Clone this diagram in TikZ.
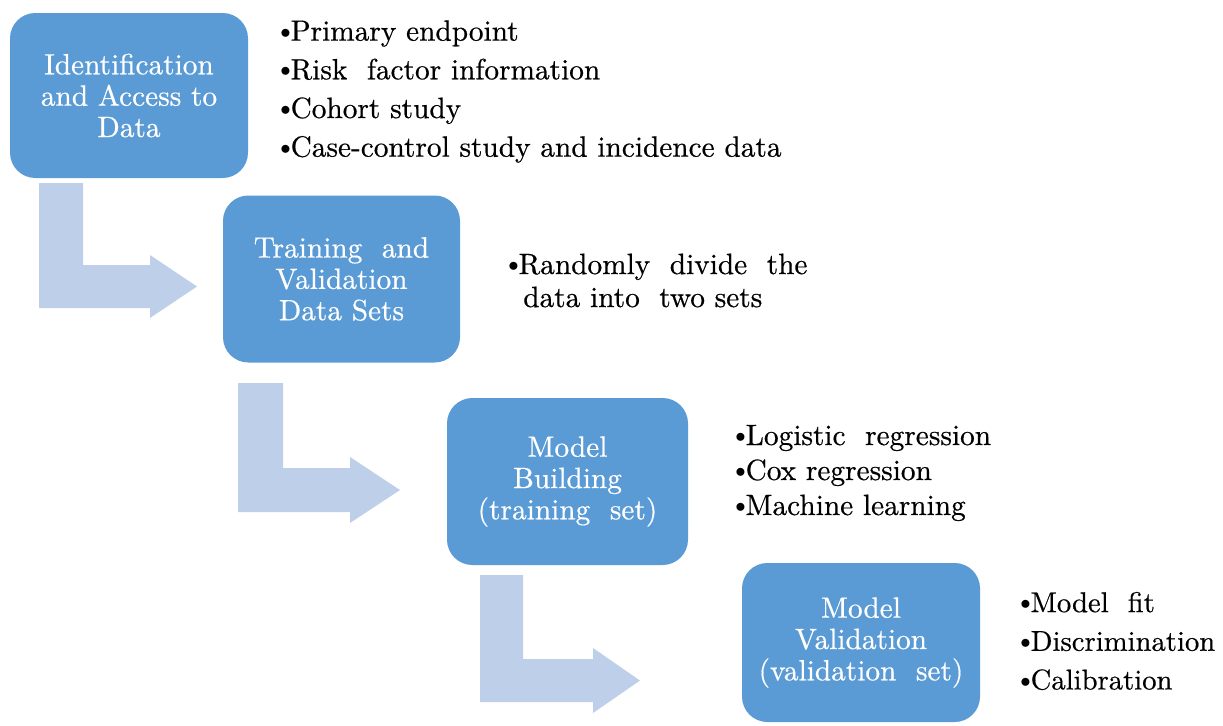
\documentclass[tikz,border=0pt]{standalone}
\usepackage{fontspec}
\setmainfont{lmroman10-regular}[Extension=.otf, FakeBold=0.5]
\definecolor{boxblue}{RGB}{91,155,213}
\definecolor{arrowblue}{RGB}{190,207,233}
\newcommand\bul{\raisebox{0.08em}{\scalebox{0.75}{$\bullet$}}}
\begin{document}
\begin{tikzpicture}[x=0.75pt,y=-0.75pt,
  stagebox/.style={fill=boxblue, draw=none, rounded corners=19pt, text=white,
    align=center, font=\fontsize{22}{23.5}\selectfont, inner sep=0pt},
  bentarrow/.style={fill=arrowblue, draw=none},
  bullets/.style={anchor=west, align=left, inner sep=0pt, text=black}]
\useasboundingbox (0,0) rectangle (1223,725);
% stage boxes
\node[stagebox, minimum width=238*0.75pt, minimum height=165*0.75pt] (b1) at (129,95.5)
  {Identification\\and Access to\\Data};
\node[stagebox, minimum width=237*0.75pt, minimum height=167*0.75pt] (b2) at (341.5,279)
  {Training\ \ and\\Validation\\Data Sets};
\node[stagebox, minimum width=241*0.75pt, minimum height=167*0.75pt] (b3) at (567.5,481.5)
  {Model\\Building\\(training\ \ set)};
\node[stagebox, minimum width=238*0.75pt, minimum height=159*0.75pt] (b4) at (861,642.5)
  {Model\\Validation\\(validation\ \ set)};
% bent arrows
\fill[bentarrow] (39,183) -- (83,183) -- (83,265) -- (150,265) -- (150,255) -- (197,286.5)
  -- (150,318) -- (150,308) -- (39,308) -- cycle;
\fill[bentarrow] (238,383) -- (283,383) -- (283,468) -- (350,468) -- (350,457) -- (400,490)
  -- (350,523) -- (350,512) -- (238,512) -- cycle;
\fill[bentarrow] (480,575) -- (523,575) -- (523,659) -- (593,659) -- (593,648) -- (640,680.5)
  -- (593,713) -- (593,702) -- (480,702) -- cycle;
% bullet lists
\node[bullets, font=\fontsize{22}{29}\selectfont] (l1) at (280,91.5)
  {\bul Primary endpoint\\\bul Risk\ \ factor information\\\bul Cohort study\\\bul Case-control study and incidence data};
\node[bullets, font=\fontsize{22}{24.75}\selectfont] (l2) at (508,280.5)
  {\bul Randomly\ \ divide\ \ the\\\hspace*{11.25pt}data into\ \ two sets};
\node[bullets, font=\fontsize{22}{26.25}\selectfont] (l3) at (735,473)
  {\bul Logistic\ \ regression\\\bul Cox regression\\\bul Machine learning};
\node[bullets, font=\fontsize{21.5}{29}\selectfont] (l4) at (1020,641)
  {\bul Model\ \ fit\\\bul Discrimination\\\bul Calibration};
\end{tikzpicture}
\end{document}
